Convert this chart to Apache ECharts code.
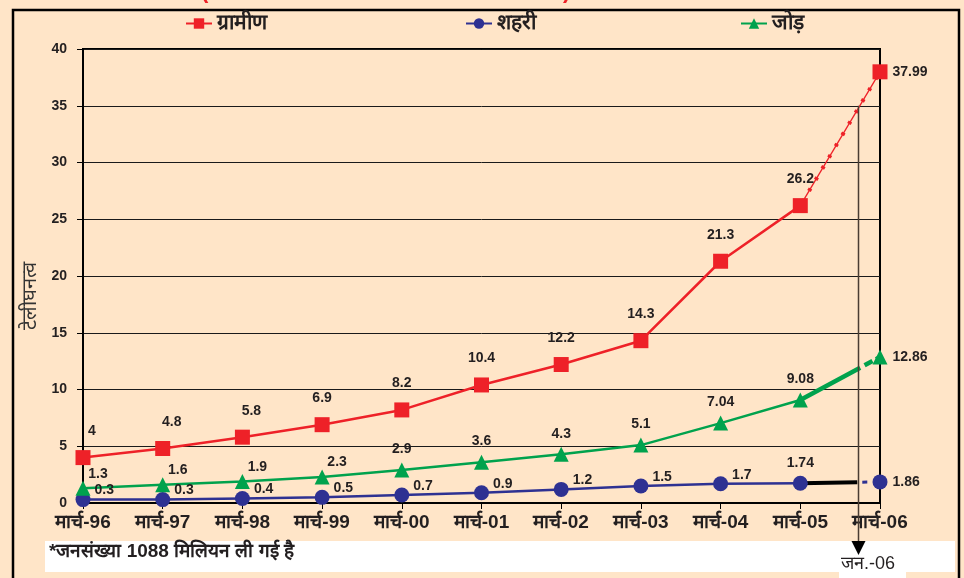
<!DOCTYPE html>
<html>
<head>
<meta charset="utf-8">
<script src="https://cdn.jsdelivr.net/npm/echarts@6/dist/echarts.min.js"></script>
<style>
html,body{margin:0;padding:0;background:#FFE5C8;}
#c{width:964px;height:578px;}
</style>
</head>
<body>
<div id="c"></div>
<script>
const categories = ['मार्च-96','मार्च-97','मार्च-98','मार्च-99','मार्च-00','मार्च-01','मार्च-02','मार्च-03','मार्च-04','मार्च-05','मार्च-06'];
const rural = [4, 4.8, 5.8, 6.9, 8.2, 10.4, 12.2, 14.3, 21.3, 26.2, 37.99];
const urban = [0.3, 0.3, 0.4, 0.5, 0.7, 0.9, 1.2, 1.5, 1.7, 1.74, 1.86];
const total = [1.3, 1.6, 1.9, 2.3, 2.9, 3.6, 4.3, 5.1, 7.04, 9.08, 12.86];
const seriesNames = ['ग्रामीण', 'शहरी', 'जोड़'];
const yAxisName = 'टेलीघनत्व';
const footnote = '*जनसंख्या 1088 मिलियन ली गई है';
const janLabel = 'जन.-06';
const janPosition = 9.73; // between मार्च-05 and मार्च-06

const RED = '#EE2128', BLUE = '#2E3192', GREEN = '#00A24D';
const lblFont = {color:'#231F20', fontWeight:'bold', fontSize:14, fontFamily:'Liberation Sans, Arial, sans-serif'};
const last = categories.length - 1;

function mainData(vals, labelFn){
  return vals.map((v,i)=> i===last ? '-' : {value:v, label:labelFn(i)});
}
function extData(vals){
  return vals.map((v,i)=>{
    if(i===last-1) return {value:v, symbol:'none', label:{show:false}};
    if(i===last) return {value:v, label:Object.assign({show:true, position:'right', distance:5}, lblFont)};
    return '-';
  });
}

const chart = echarts.init(document.getElementById('c'), null, {renderer:'canvas'});
const legendBase = {top:13, padding:0, itemWidth:26, itemHeight:13, itemGap:6, textStyle:{fontSize:21, color:'#231F20', fontWeight:'bold'}, selectedMode:false};

const option = {
  backgroundColor:'#FFE5C8',
  animation:false,
  legend:[
    Object.assign({left:185, data:[seriesNames[0]]}, legendBase),
    Object.assign({left:465, data:[seriesNames[1]]}, legendBase),
    Object.assign({left:740, data:[seriesNames[2]]}, legendBase)
  ],
  grid:{left:83, right:84, top:49, bottom:75, show:true, borderColor:'#000', borderWidth:2, backgroundColor:'transparent'},
  xAxis:{
    type:'category', data:categories, boundaryGap:false,
    axisLine:{lineStyle:{color:'#000', width:2}},
    axisTick:{show:true, length:6, lineStyle:{color:'#000', width:1}},
    axisLabel:{color:'#231F20', fontSize:19, fontWeight:'bold', margin:10, fontFamily:'sans-serif'},
    splitLine:{show:false}
  },
  yAxis:{
    type:'value', min:0, max:40, interval:5,
    name:yAxisName, nameLocation:'middle', nameGap:31, nameRotate:90,
    nameTextStyle:{color:'#333', fontSize:20, padding:[0,40,0,0]},
    axisLine:{show:true, lineStyle:{color:'#000', width:2}},
    axisTick:{show:true, inside:false, length:6, lineStyle:{color:'#000'}},
    axisLabel:Object.assign({margin:16}, lblFont, {fontSize:14}),
    splitLine:{show:true, lineStyle:{color:'#1a1a1a', width:1}}
  },
  series:[
    {name:seriesNames[0], type:'line', data:mainData(rural, i=>Object.assign({show:true, position:'top', distance:12, offset:[i<3?9:0,0]}, lblFont)),
     symbol:'rect', symbolSize:15, itemStyle:{color:RED}, lineStyle:{color:RED, width:2.5}, z:5},
    {name:seriesNames[1], type:'line', data:mainData(urban, i=>Object.assign(i<last-1 ? {show:true, position:'right', distance:4, offset:[0,-9]} : {show:true, position:'top', distance:6}, lblFont)),
     symbol:'circle', symbolSize:15, itemStyle:{color:BLUE}, lineStyle:{color:BLUE, width:2.5}, z:5},
    {name:seriesNames[2], type:'line', data:mainData(total, i=>Object.assign(i<4 ? {show:true, position:'top', distance:2, offset:[15,2]} : {show:true, position:'top', distance:6}, lblFont)),
     symbol:'triangle', symbolSize:15, itemStyle:{color:GREEN}, lineStyle:{color:GREEN, width:2.5}, z:5},
    // extensions to Mar-06
    {type:'line', data:extData(rural), symbol:'rect', symbolSize:15, itemStyle:{color:RED}, lineStyle:{color:RED, width:1.3}, z:4},
    {type:'line', data:rural.map((v,i)=> i>=last-1 ? v : '-'), symbol:'none', lineStyle:{color:RED, width:4, type:[3,10], dashOffset:-4}, z:4},
    {type:'line', data:extData(urban), symbol:'circle', symbolSize:15, itemStyle:{color:BLUE}, lineStyle:{color:'#000', width:4, type:[57,200]}, z:4},
    {type:'line', data:urban.map((v,i)=> i>=last-1 ? v : '-'), symbol:'none', lineStyle:{color:BLUE, width:3, type:[0,62,5,200]}, z:4},
    {type:'line', data:extData(total), symbol:'triangle', symbolSize:15, itemStyle:{color:GREEN}, lineStyle:{color:GREEN, width:4.5, type:[68,5,9,4,3,4,20]}, z:4}
  ]
};
chart.setOption(option);

// annotation: vertical arrow to जन.-06
const p9 = chart.convertToPixel({gridIndex:0}, [last-1, 35]);
const p10 = chart.convertToPixel({gridIndex:0}, [last, 0]);
const ax = Math.round(p9[0] + (p10[0]-p9[0])*(janPosition-(last-1))) + 0.5;
const yTop = p9[1];

chart.setOption({
  graphic:[
    {type:'rect', shape:{x:13, y:10, width:946, height:580}, style:{fill:'none', stroke:'#000', lineWidth:2.5}, z:0, silent:true},
    {type:'text', left:201, top:-19, style:{text:'(', fill:'#EE2128', font:'bold 22px Liberation Sans'}},
    {type:'text', left:563, top:-19, style:{text:')', fill:'#EE2128', font:'bold 22px Liberation Sans'}},
    {type:'rect', shape:{x:45, y:541, width:910, height:31}, style:{fill:'#fff'}, z:1},
    {type:'rect', shape:{x:839, y:555, width:67, height:25}, style:{fill:'#fff'}, z:1},
    {type:'text', left:49, top:542, style:{text:footnote, fill:'#231F20', font:'bold 19px sans-serif'}, z:2},
    {type:'text', left:841, top:555, style:{text:janLabel, fill:'#231F20', font:'18px sans-serif'}, z:2},
    {type:'line', shape:{x1:ax, y1:yTop, x2:ax, y2:542}, style:{stroke:'#4a3d33', lineWidth:1.5}, z:10},
    {type:'polygon', shape:{points:[[ax-7,541],[ax+7,541],[ax,555]]}, style:{fill:'#000'}, z:10}
  ]
});
</script>
</body>
</html>
